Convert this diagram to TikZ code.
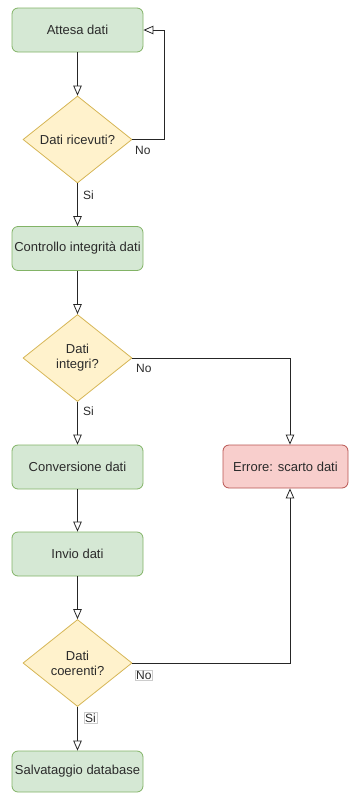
\documentclass[tikz,border=0pt]{standalone}
\usepackage{fontspec}
\setmainfont{Liberation Sans}
\usetikzlibrary{arrows.meta,shapes.geometric}
\definecolor{gfill}{HTML}{D5E8D4}\definecolor{gline}{HTML}{82B366}
\definecolor{yfill}{HTML}{FFF2CC}\definecolor{yline}{HTML}{D6B656}
\definecolor{rfill}{HTML}{F8CECC}\definecolor{rline}{HTML}{B85450}
\definecolor{txt}{HTML}{2B2B2B}
\tikzset{
  base/.style={font=\fontsize{13}{15}\selectfont, text=txt, align=center, inner sep=0pt, line width=0.8pt},
  procbox/.style={base, rectangle, rounded corners=6pt, draw=gline, fill=gfill, minimum width=131pt, minimum height=44pt},
  errbox/.style={base, rectangle, rounded corners=6pt, draw=rline, fill=rfill, minimum width=125pt, minimum height=43pt},
  decision/.style={base, diamond, aspect=1.25, draw=yline, fill=yfill, minimum width=109pt, minimum height=87pt},
  flow/.style={draw=black!85, line width=0.8pt, -{Triangle[open, length=10pt, width=8.5pt]}},
  lbl/.style={font=\fontsize{12}{14}\selectfont, text=txt, inner sep=1pt},
  lblbox/.style={lbl, draw=black!20, fill=white, line width=0.4pt}
}
\begin{document}
\begin{tikzpicture}[x=1pt, y=-1pt]
\useasboundingbox (0,0) rectangle (349,793);
\node[procbox] (wait) at (77.5,30) {Attesa dati};
\node[decision] (recv) at (77.5,139.5) {Dati ricevuti?};
\node[procbox] (check) at (77.5,248.5) {Controllo integrità dati};
\node[decision] (intact) at (77.5,358) {Dati\\integri?};
\node[procbox] (conv) at (77.5,467) {Conversione dati};
\node[procbox] (send) at (77.5,554) {Invio dati};
\node[decision] (coher) at (77.5,663) {Dati\\coerenti?};
\node[procbox, minimum height=41pt] (save) at (77.5,771.5) {Salvataggio database};
\node[errbox] (err) at (285.5,466.5) {Errore: scarto dati};

\coordinate (loop) at (164,30);
\draw[flow] (wait) -- (recv);
\draw[flow] (recv.east) -| (loop) -- (wait.east);
\draw[flow] (recv) -- (check);
\draw[flow] (check) -- (intact);
\draw[flow] (intact.east) -| (err.north -| 290,0);
\draw[flow] (intact) -- (conv);
\draw[flow] (conv) -- (send);
\draw[flow] (send) -- (coher);
\draw[flow] (coher.east) -| (err.south -| 290,0);
\draw[flow] (coher) -- (save);

\node[lbl, anchor=west] at (134,150) {No};
\node[lbl, anchor=west] at (82,195) {Si};
\node[lbl, anchor=west] at (135,368) {No};
\node[lbl, anchor=west] at (82,411) {Si};
\node[lblbox, anchor=west] at (135,675.5) {No};
\node[lblbox, anchor=west] at (84,718) {Si};
\end{tikzpicture}
\end{document}
